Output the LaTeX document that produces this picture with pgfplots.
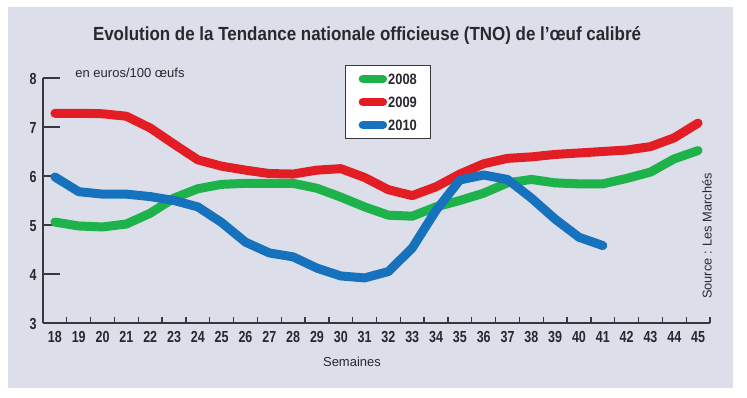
\documentclass[border=0pt]{standalone}
\usepackage{fontspec}
\setmainfont{Liberation Sans}
\newfontfamily\cond[FakeStretch=0.78]{Liberation Sans}
\newfontfamily\condl[FakeStretch=0.86]{Liberation Sans}
\usepackage{graphicx}
\usepackage{pgfplots}
\pgfplotsset{compat=1.18}
\definecolor{panel}{RGB}{220,223,234}
\definecolor{cg}{RGB}{30,178,74}
\definecolor{cr}{RGB}{226,30,36}
\definecolor{cb}{RGB}{22,114,188}
\definecolor{axc}{RGB}{55,55,60}
\definecolor{txt}{RGB}{40,40,45}
\begin{document}
\begin{tikzpicture}
\path[use as bounding box, fill=white] (0,0) rectangle (747pt,397pt);
\fill[panel] (8pt,9pt) rectangle (733pt,390pt);
\node[font=\bfseries\fontsize{19}{19}\selectfont, text=txt] at (367pt,361pt)
  {\resizebox{548pt}{\height}{Evolution de la Tendance nationale officieuse (TNO) de l’œuf calibré}};
\begin{axis}[
  at={(43pt,74pt)}, anchor=south west,
  scale only axis, width=667pt, height=245pt,
  xmin=17.5, xmax=45.5, ymin=3, ymax=8,
  clip=false,
  axis x line=bottom, axis y line=left,
  axis line style={-, draw=axc, line width=1.6pt},
  tick align=inside,
  xtick={18,...,45},
  xticklabels={18,19,20,21,22,23,24,25,26,27,28,29,30,31,32,33,34,35,36,37,38,39,40,41,42,43,44,45},
  major x tick style={draw=none},
  minor xtick={18.5,19.5,...,45.5},
  minor tick length=6pt,
  minor x tick style={draw=axc, line width=1.3pt},
  ytick={3,4,5,6,7,8},
  yticklabels={3,4,5,6,7,8},
  major tick length=17pt,
  major y tick style={draw=axc, line width=1.5pt},
  ticklabel style={font=\cond\bfseries\fontsize{16}{16}\selectfont, text=txt},
  xticklabel style={yshift=-5pt},
  yticklabel style={xshift=-3pt, yshift=-1pt},
  legend style={at={(0.453,1.053)}, anchor=north west, draw=axc, line width=1pt,
    fill=white, font=\condl\bfseries\fontsize{15}{15}\selectfont, text=txt,
    row sep=10pt, inner xsep=13pt, inner ysep=7pt, cells={anchor=west},
    nodes={inner sep=1pt, text height=11pt, text depth=0pt}},
  legend image code/.code={\draw[#1, line width=8.5pt, line cap=round] (0pt,0pt) -- (20pt,0pt);},
]
\addplot[cg, line width=9pt, line join=round, line cap=round] coordinates {
(18,5.06) (19,4.98) (20,4.96) (21,5.02) (22,5.24) (23,5.55) (24,5.74) (25,5.83)
(26,5.85) (27,5.85) (28,5.85) (29,5.75) (30,5.57) (31,5.37) (32,5.20) (33,5.18)
(34,5.37) (35,5.50) (36,5.65) (37,5.86) (38,5.93) (39,5.86) (40,5.84) (41,5.84)
(42,5.95) (43,6.08) (44,6.35) (45,6.52)};
\addlegendentry{2008}
\addplot[cr, line width=9pt, line join=round, line cap=round] coordinates {
(18,7.28) (19,7.28) (20,7.27) (21,7.22) (22,6.98) (23,6.65) (24,6.33) (25,6.20)
(26,6.12) (27,6.05) (28,6.04) (29,6.12) (30,6.15) (31,5.97) (32,5.72) (33,5.60)
(34,5.78) (35,6.04) (36,6.25) (37,6.36) (38,6.39) (39,6.44) (40,6.47) (41,6.50)
(42,6.53) (43,6.60) (44,6.78) (45,7.08)};
\addlegendentry{2009}
\addplot[cb, line width=9pt, line join=round, line cap=round] coordinates {
(18,5.98) (19,5.68) (20,5.63) (21,5.63) (22,5.58) (23,5.50) (24,5.37) (25,5.05)
(26,4.65) (27,4.43) (28,4.35) (29,4.12) (30,3.96) (31,3.92) (32,4.05) (33,4.53)
(34,5.30) (35,5.92) (36,6.02) (37,5.93) (38,5.55) (39,5.12) (40,4.75) (41,4.58)};
\addlegendentry{2010}
\end{axis}
\node[font=\fontsize{13}{13}\selectfont, text=txt] at (130pt,324pt) {en euros/100 œufs};
\node[font=\fontsize{13}{13}\selectfont, text=txt] at (352pt,35pt) {Semaines};
\node[font=\fontsize{12.8}{12.8}\selectfont, text=txt, rotate=90] at (707pt,161pt) {Source : Les Marchés};
\end{tikzpicture}
\end{document}
